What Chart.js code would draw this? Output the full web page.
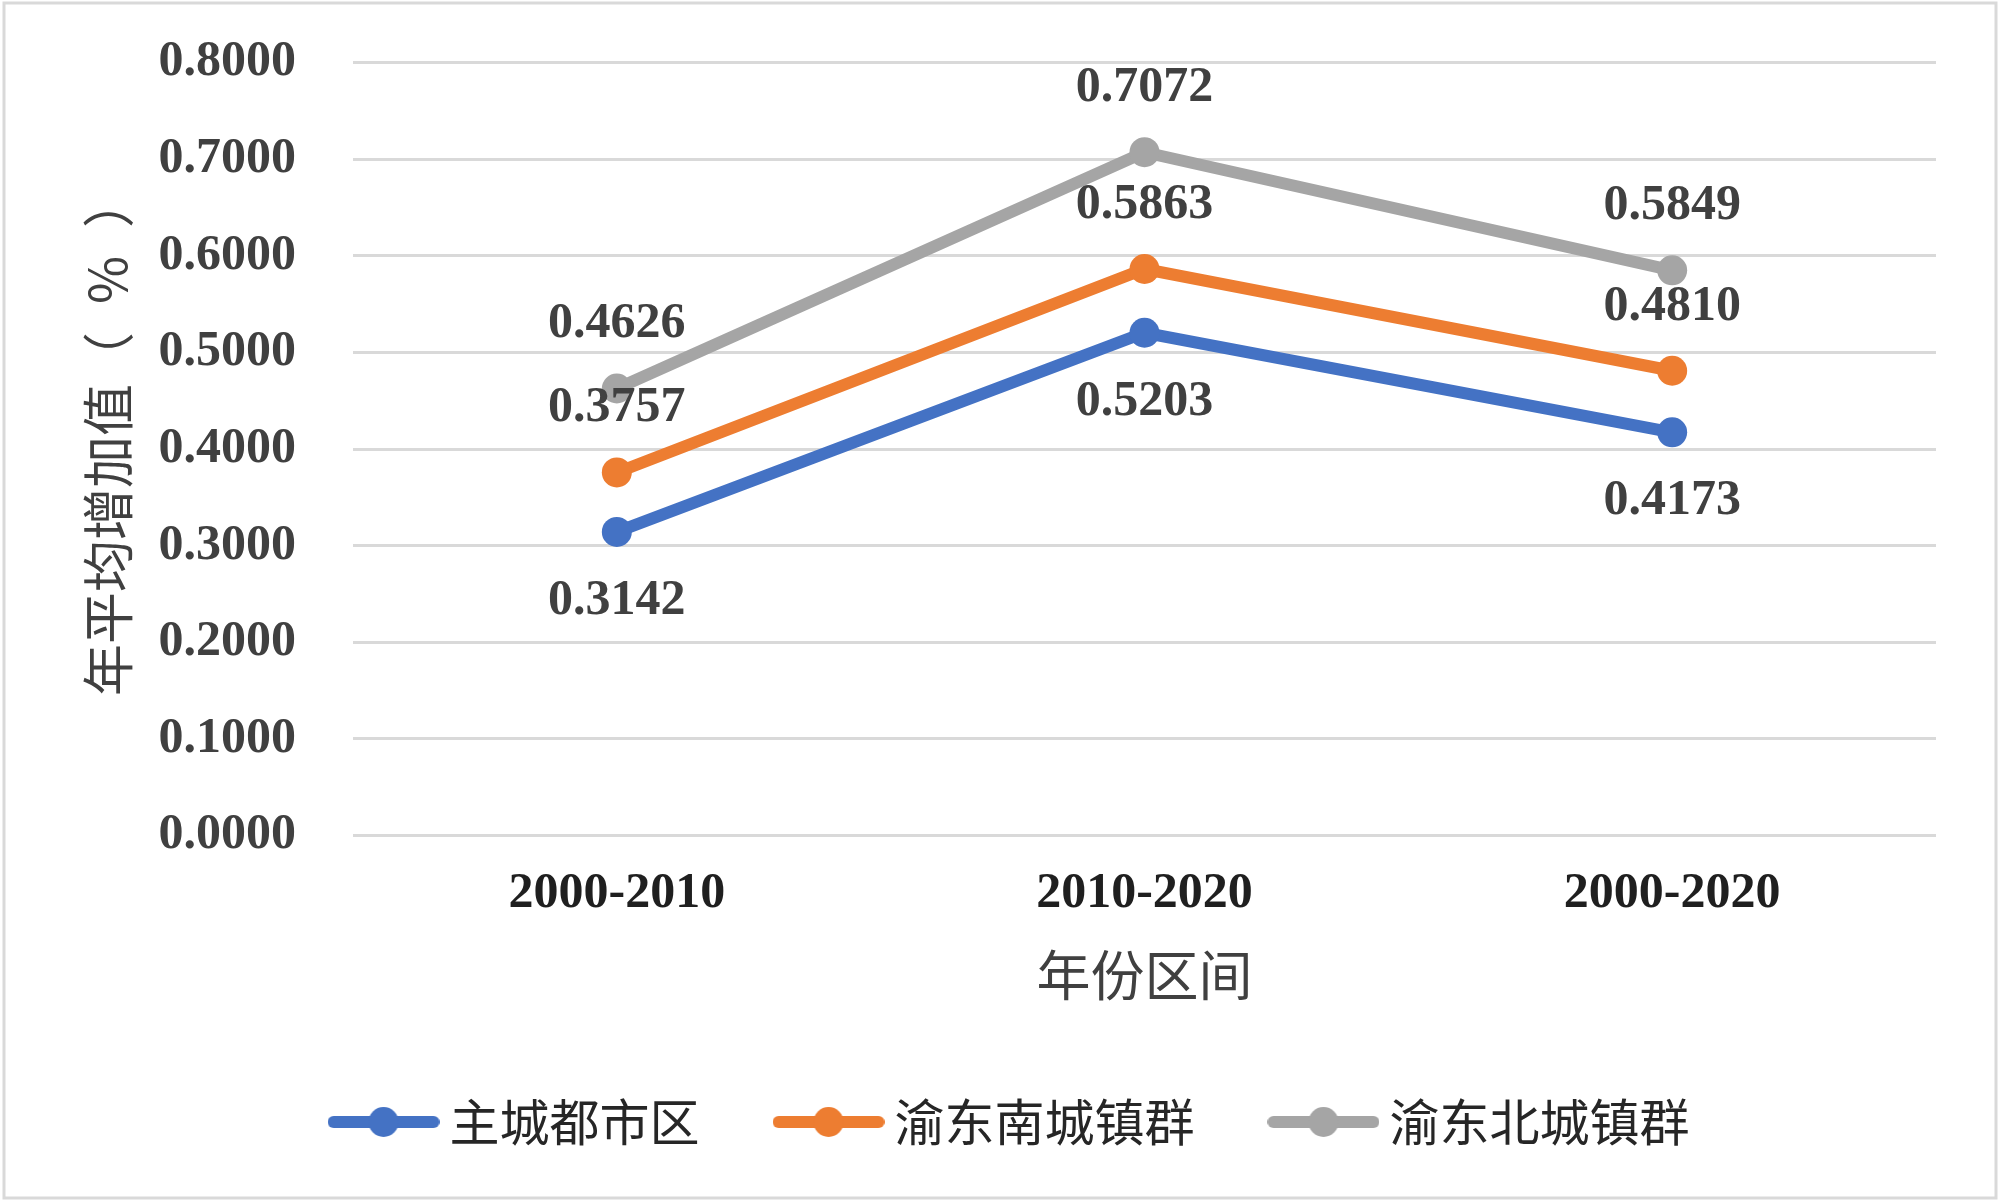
<!DOCTYPE html>
<html>
<head>
<meta charset="utf-8">
<script src="https://cdn.jsdelivr.net/npm/chart.js@4"></script>
<style>
  html, body { margin: 0; padding: 0; background: #fff; }
  #wrap { width: 2000px; height: 1201px; position: relative; }
</style>
</head>
<body>
<div id="wrap"><canvas id="lineChart"></canvas></div>
<script>
// --------------------- DATA ------------------------
const periods = ['2000-2010', '2010-2020', '2000-2020'];
const seriesNames = ['主城都市区', '渝东南城镇群', '渝东北城镇群'];
const mainCity = [0.3142, 0.5203, 0.4173];
const southeast = [0.3757, 0.5863, 0.4810];
const northeast = [0.4626, 0.7072, 0.5849];
const yTicks = [0, 0.1, 0.2, 0.3, 0.4, 0.5, 0.6, 0.7, 0.8];

const colors = ['#4472C4', '#ED7D31', '#A5A5A5'];
const serif = "'Liberation Serif', 'Times New Roman', serif";
const cjk = "'Noto Sans CJK SC', sans-serif";

// --------------------- LEGEND MARKER (line + dot) ------------------------
function makeMarker(color) {
    let c = document.createElement('canvas');
    c.width = 112;
    c.height = 32;
    let g = c.getContext('2d');
    g.strokeStyle = color;
    g.fillStyle = color;
    g.lineWidth = 12;
    g.lineCap = 'round';
    g.beginPath();
    g.moveTo(6, 16);
    g.lineTo(106, 16);
    g.stroke();
    g.beginPath();
    g.arc(56, 16, 15, 0, Math.PI * 2);
    g.fill();
    return c;
}

// --------------------- PLUGINS ------------------------
const framePlugin = {
    id: 'frame',
    beforeDraw(chart) {
        let ctx = chart.ctx;
        ctx.save();
        ctx.fillStyle = '#fff';
        ctx.fillRect(0, 0, chart.width, chart.height);
        ctx.strokeStyle = '#D9D9D9';
        ctx.lineWidth = 3;
        ctx.strokeRect(4, 3, chart.width - 8, chart.height - 6);
        ctx.restore();
    }
};

// legend sits a bit right of the plot's centre in the original
const legendShift = {
    id: 'legendShift',
    afterLayout(chart) {
        chart.legend.left += 48;
        chart.legend.right += 48;
    }
};

const valueLabels = {
    id: 'valueLabels',
    afterDatasetsDraw(chart) {
        let ctx = chart.ctx;
        ctx.save();
        ctx.font = 'bold 50px ' + serif;
        ctx.fillStyle = '#404040';
        ctx.textAlign = 'center';
        ctx.textBaseline = 'middle';
        chart.data.datasets.forEach((ds, i) => {
            let meta = chart.getDatasetMeta(i);
            meta.data.forEach((pt, j) => {
                let dy = ds.labelBelow ? 69 : -64;
                ctx.fillText(ds.data[j].toFixed(4), pt.x, pt.y + dy);
            });
        });
        ctx.restore();
    }
};

// --------------------- CHART ------------------------
function makeDataset(label, data, color, below) {
    return {
        label: label,
        data: data,
        borderColor: color,
        backgroundColor: color,
        borderWidth: 12,
        pointRadius: 15,
        pointHoverRadius: 15,
        pointBorderWidth: 0,
        pointStyle: 'circle',
        tension: 0,
        labelBelow: below
    };
}

const ctx = document.getElementById('lineChart').getContext('2d');
let chart = new Chart(ctx, {
    type: 'line',
    data: {
        labels: periods,
        datasets: [
            makeDataset(seriesNames[0], mainCity, colors[0], true),
            makeDataset(seriesNames[1], southeast, colors[1], false),
            makeDataset(seriesNames[2], northeast, colors[2], false)
        ]
    },
    options: {
        responsive: true,
        maintainAspectRatio: false,
        animation: false,
        devicePixelRatio: 1,
        layout: { padding: { left: 0, right: 64, top: 62.5, bottom: 44 } },
        plugins: {
            tooltip: { enabled: false },
            legend: {
                position: 'bottom',
                align: 'center',
                labels: {
                    usePointStyle: true,
                    pointStyleWidth: 82,
                    padding: 88,
                    color: '#262626',
                    font: { family: cjk, size: 50 },
                    generateLabels(chart) {
                        return chart.data.datasets.map((ds, i) => ({
                            text: ds.label,
                            pointStyle: makeMarker(colors[i]),
                            fillStyle: colors[i],
                            strokeStyle: colors[i],
                            lineWidth: 0,
                            fontColor: '#262626',
                            datasetIndex: i,
                            hidden: false
                        }));
                    }
                }
            }
        },
        scales: {
            x: {
                offset: true,
                grid: { display: false, drawTicks: false },
                border: { display: false },
                ticks: {
                    padding: 29,
                    color: '#1F1F1F',
                    font: { family: serif, size: 50, weight: 'bold' }
                },
                title: {
                    display: true,
                    text: '年份区间',
                    color: '#404040',
                    font: { family: cjk, size: 54 },
                    padding: { top: 0, bottom: 1 }
                },
                afterFit(scale) { scale.height = 173.5; }
            },
            y: {
                min: 0,
                max: 0.8,
                afterBuildTicks(scale) {
                    scale.ticks = yTicks.map(v => ({ value: v }));
                },
                grid: { color: '#D9D9D9', lineWidth: 3, drawTicks: false },
                border: { display: false },
                ticks: {
                    padding: 57,
                    color: '#404040',
                    font: { family: serif, size: 50, weight: 'bold' },
                    callback: v => Number(v).toFixed(4)
                },
                title: {
                    display: true,
                    text: '\u2002年平均增加值（\u2002％\u2002）',
                    color: '#404040',
                    font: { family: cjk, size: 52 },
                    padding: { top: 77, bottom: 0 }
                },
                afterFit(scale) {
                    scale.width = 353;
                    // tick padding should not push the plot area down
                    scale.paddingTop = 0;
                    scale.paddingBottom = 0;
                }
            }
        }
    },
    plugins: [framePlugin, legendShift, valueLabels]
});
</script>
</body>
</html>
